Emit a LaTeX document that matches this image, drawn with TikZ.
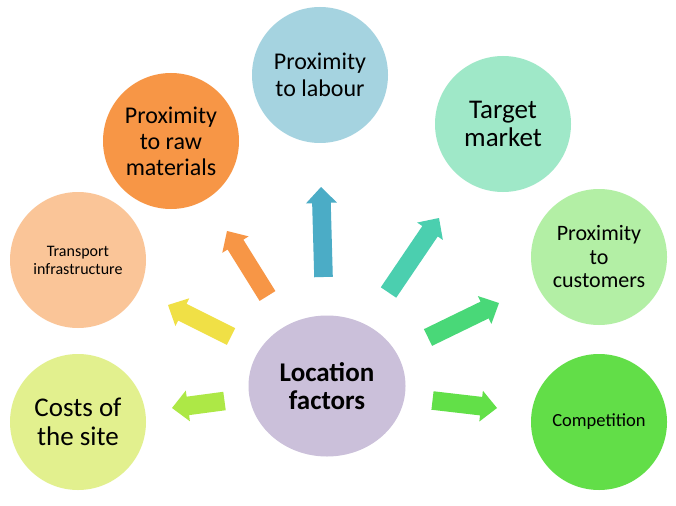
\documentclass[tikz,border=0pt]{standalone}
\usepackage{fontspec}
\setmainfont{Carlito}
\usetikzlibrary{calc,shapes.geometric}

% circle fills
\definecolor{labourC}{RGB}{165,211,224}
\definecolor{rawC}{RGB}{247,150,70}
\definecolor{targetC}{RGB}{159,232,200}
\definecolor{transC}{RGB}{250,197,152}
\definecolor{custC}{RGB}{179,239,165}
\definecolor{costC}{RGB}{226,240,142}
\definecolor{compC}{RGB}{98,222,72}
\definecolor{centC}{RGB}{203,192,218}
% arrow fills
\definecolor{blueA}{RGB}{75,172,198}
\definecolor{tealA}{RGB}{75,207,175}
\definecolor{orangeA}{RGB}{247,150,70}
\definecolor{yellowA}{RGB}{240,224,70}
\definecolor{limeA}{RGB}{173,232,70}
\definecolor{greenA}{RGB}{73,216,120}
\definecolor{brightA}{RGB}{98,224,72}

% block arrow geometry
\def\arrshaft{9.3pt}
\def\arrhead{15.5pt}
\def\arrheadlen{16pt}

% \blockarr{tail}{tip}{colour}
\newcommand{\blockarr}[3]{%
  \path ($(#2)!\arrheadlen!(#1)$) coordinate (#2-base);
  \fill[#3] ($(#1)!\arrshaft!90:(#2)$)
    -- ($(#2-base)!\arrshaft!90:(#2)$)
    -- ($(#2-base)!\arrhead!90:(#2)$)
    -- (#2)
    -- ($(#2-base)!\arrhead!-90:(#2)$)
    -- ($(#2-base)!\arrshaft!-90:(#2)$)
    -- ($(#1)!\arrshaft!-90:(#2)$) -- cycle;
}

\begin{document}
\begin{tikzpicture}[x=1pt,y=-1pt,
  factor/.style={circle, minimum size=136pt, inner sep=0pt, align=center, text=black},
  hub/.style={ellipse, minimum width=157pt, minimum height=141pt, inner sep=0pt, align=center,
              fill=centC, font=\fontsize{27}{28.5}\selectfont\bfseries}]
\useasboundingbox[fill=white] (0,0) rectangle (676,505);

% outer factors
\node[factor, fill=labourC, font=\fontsize{24}{26.5}\selectfont] (labour) at (320,75) {Proximity\\to labour};
\node[factor, fill=rawC, font=\fontsize{24}{26}\selectfont] (raw) at (171,141) {Proximity\\to raw\\materials};
\node[factor, fill=targetC, font=\fontsize{27}{28.5}\selectfont] (target) at (503,124) {Target\\market};
\node[factor, fill=transC, font=\fontsize{16}{18}\selectfont] (trans) at (78,260) {Transport\\infrastructure};
\node[factor, fill=custC, font=\fontsize{22}{23.5}\selectfont] (cust) at (599,257) {Proximity\\to\\customers};
\node[factor, fill=costC, font=\fontsize{27}{29}\selectfont] (cost) at (78,422) {Costs of\\the site};
\node[factor, fill=compC, font=\fontsize{18.5}{22}\selectfont] (comp) at (599,422) {Competition};

% central topic
\node[hub] (hub) at (327,386) {Location\\factors};

% arrow ends
\coordinate (blueT) at (323.5,277);  \coordinate (blueP) at (321,187);
\coordinate (tealT) at (388.5,292.5); \coordinate (tealP) at (439,218);
\coordinate (orT) at (267.5,296);    \coordinate (orP) at (227,231);
\coordinate (yeT) at (231,336.5);    \coordinate (yeP) at (168,305);
\coordinate (liT) at (224.5,401);    \coordinate (liP) at (172,408);
\coordinate (grT) at (428,337.5);    \coordinate (grP) at (499,303);
\coordinate (brT) at (432.5,400.5);  \coordinate (brP) at (497,408);

\blockarr{blueT}{blueP}{blueA}
\blockarr{tealT}{tealP}{tealA}
\blockarr{orT}{orP}{orangeA}
\blockarr{yeT}{yeP}{yellowA}
\blockarr{liT}{liP}{limeA}
\blockarr{grT}{grP}{greenA}
\blockarr{brT}{brP}{brightA}
\end{tikzpicture}
\end{document}
